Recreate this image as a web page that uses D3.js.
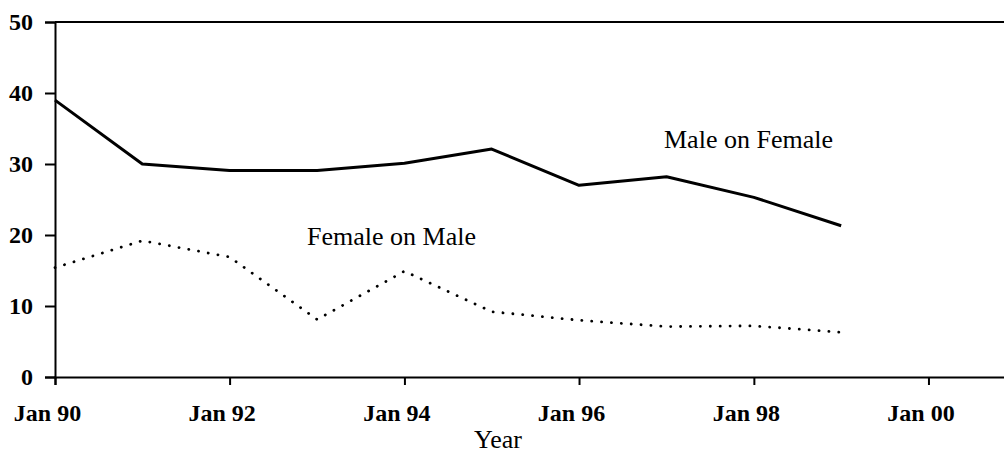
<!DOCTYPE html>
<meta charset="utf-8">
<style>
  body { margin: 0; background: #fff; }
  svg text { font-family: "Liberation Serif", "Times New Roman", Times, serif; fill: #000; }
  .axis path, .axis line { stroke: #000; stroke-width: 2px; }
  .axis text { font-size: 24px; font-weight: bold; }
  .series-label { font-size: 26px; }
  .axis-title { font-size: 26px; }
</style>
<body>
<div id="chart"></div>
<script src="https://d3js.org/d3.v7.min.js"></script>
<script>
  // data
  const years = [1990, 1991, 1992, 1993, 1994, 1995, 1996, 1997, 1998, 1999];
  const maleOnFemale = [39, 30, 29.1, 29.1, 30.1, 32.1, 27, 28.2, 25.3, 21.3];
  const femaleOnMale = [15.4, 19.2, 16.9, 8.1, 14.9, 9.2, 8.0, 7.1, 7.2, 6.3];
  const yTicks = [0, 10, 20, 30, 40, 50];

  const width = 1004;
  const height = 453;
  const margin = {top: 22, right: -12, bottom: 76, left: 55};

  const svg = d3.select("#chart").append("svg")
    .attr("width", width)
    .attr("height", height);

  const x = d3.scaleTime()
    .domain([new Date(1990, 0, 1), new Date(2001, 0, 1)])
    .range([margin.left, width - margin.right]);

  const y = d3.scaleLinear()
    .domain([0, 50])
    .range([height - margin.bottom, margin.top]);

  // top frame line
  svg.append("line")
    .attr("x1", margin.left).attr("x2", width)
    .attr("y1", y(50)).attr("y2", y(50))
    .attr("stroke", "#000").attr("stroke-width", 2);

  const xAxis = svg.append("g")
    .attr("class", "axis")
    .attr("transform", `translate(0,${y(0)})`)
    .call(d3.axisBottom(x)
      .ticks(d3.timeYear.every(2))
      .tickFormat(d3.timeFormat("%b %y"))
      .tickSizeOuter(0)
      .tickSize(8)
      .tickPadding(19));
  xAxis.selectAll("text").attr("dx", -8);

  svg.append("g")
    .attr("class", "axis")
    .attr("transform", `translate(${margin.left},0)`)
    .call(d3.axisLeft(y)
      .tickValues(yTicks)
      .tickSizeOuter(0)
      .tickSize(10)
      .tickPadding(12));

  const line = d3.line()
    .x((d, i) => x(new Date(years[i], 0, 1)))
    .y(d => y(d));

  svg.append("path")
    .datum(maleOnFemale)
    .attr("fill", "none")
    .attr("stroke", "#000")
    .attr("stroke-width", 3)
    .attr("stroke-linejoin", "round")
    .attr("d", line);

  // dotted series
  svg.append("path")
    .datum(femaleOnMale)
    .attr("fill", "none")
    .attr("stroke", "#000")
    .attr("stroke-width", 2.8)
    .attr("stroke-linecap", "round")
    .attr("stroke-dasharray", "0.1 9.8")
    .attr("d", line);

  svg.append("text")
    .attr("class", "series-label")
    .attr("x", 664).attr("y", 148)
    .text("Male on Female");

  svg.append("text")
    .attr("class", "series-label")
    .attr("x", 307).attr("y", 245)
    .text("Female on Male");

  svg.append("text")
    .attr("class", "axis-title")
    .attr("x", 498).attr("y", 448)
    .attr("text-anchor", "middle")
    .text("Year");
</script>
</body>
</html>
